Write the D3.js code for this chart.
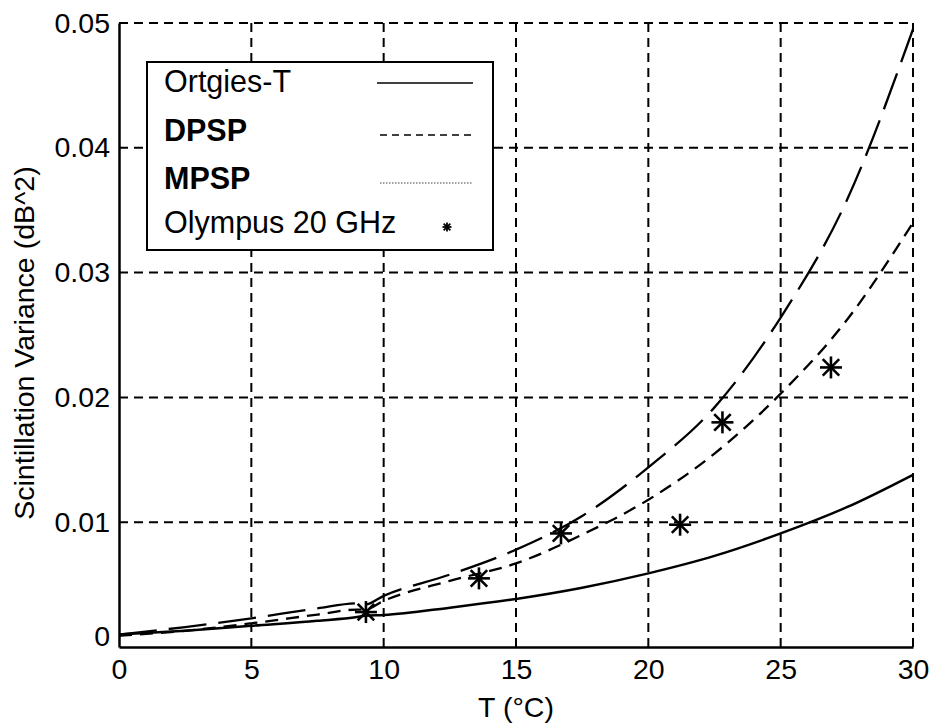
<!DOCTYPE html>
<html>
<head>
<meta charset="utf-8">
<script src="https://cdn.jsdelivr.net/npm/d3@7"></script>
<style>
  html, body { margin: 0; padding: 0; background: #fff; }
  svg { display: block; font-family: "Liberation Sans", Arial, sans-serif; }
</style>
</head>
<body>
<svg id="chart" width="930" height="726"></svg>
<script>
// ---- data ----
const temps   = [0, 2.5, 5, 7.5, 9, 9.3, 10, 12.5, 15, 17.5, 20, 22.5, 25, 27.5, 30];
const ortgies = [0.0010, 0.0013, 0.0017, 0.0021, 0.0024, 0.0025, 0.00256, 0.00315, 0.00385, 0.00475, 0.0059, 0.0073, 0.0091, 0.0112, 0.0138];
const dpsp    = [0.0009, 0.0013, 0.0019, 0.0026, 0.0030, 0.0030, 0.0037, 0.0053, 0.0067, 0.0090, 0.0118, 0.0155, 0.0203, 0.0262, 0.0340];
const mpsp    = [0.0010, 0.0016, 0.0023, 0.0031, 0.0035, 0.0034, 0.0041, 0.0058, 0.0078, 0.0105, 0.0144, 0.0192, 0.0264, 0.0358, 0.0495];
const olyT    = [9.33, 13.6, 16.7, 21.2, 22.8, 26.9];
const olyV    = [0.0028, 0.0055, 0.0091, 0.0098, 0.0180, 0.0224];
const xTicks  = [0, 5, 10, 15, 20, 25, 30];
const yTicks  = [0, 0.01, 0.02, 0.03, 0.04, 0.05];
const yTickLabels = ["0", "0.01", "0.02", "0.03", "0.04", "0.05"];
const legendLabels = ["Ortgies-T", "DPSP", "MPSP", "Olympus 20 GHz"];
const xLabel = "T (°C)";
const yLabel = "Scintillation Variance (dB^2)";

// ---- layout ----
const L = 119, R = 913, T = 23, B = 647;
const svg = d3.select("#chart");
const x = d3.scaleLinear().domain([0, 30]).range([L, R]);
const y = d3.scaleLinear().domain([0, 0.05]).range([B, T]);

// grid
const grid = svg.append("g").attr("stroke", "#000").attr("stroke-width", 2)
  .attr("stroke-dasharray", "9,6").attr("fill", "none");
xTicks.filter(d => d > 0).forEach(d => {
  grid.append("line").attr("x1", x(d)).attr("x2", x(d)).attr("y1", B).attr("y2", T);
});
yTicks.filter(d => d > 0).forEach(d => {
  grid.append("line").attr("x1", L).attr("x2", R).attr("y1", y(d)).attr("y2", y(d));
});

// axes
const xAxis = d3.axisBottom(x).tickValues(xTicks).tickSize(0).tickPadding(12)
  .tickFormat(d3.format("d"));
const gx = svg.append("g").attr("transform", `translate(0,${B})`).call(xAxis);
gx.select(".domain").attr("stroke", "#000").attr("stroke-width", 2.5);
gx.selectAll("text").attr("font-size", 28.5).attr("fill", "#000")
  .attr("font-family", "Liberation Sans, Arial, sans-serif");

const yAxis = d3.axisLeft(y).tickValues(yTicks).tickSize(0).tickPadding(9)
  .tickFormat((d, i) => yTickLabels[i]);
const gy = svg.append("g").attr("transform", `translate(${L},0)`).call(yAxis);
gy.select(".domain").attr("stroke", "#000").attr("stroke-width", 2.5);
gy.selectAll("text").attr("font-size", 28.5).attr("fill", "#000")
  .attr("font-family", "Liberation Sans, Arial, sans-serif");
gy.selectAll(".tick").filter(d => d === 0).select("text").attr("dy", "-0.05em");

// axis labels
svg.append("text").attr("x", (L + R) / 2).attr("y", 717).attr("text-anchor", "middle")
  .attr("font-size", 28.5).text(xLabel);
svg.append("text").attr("transform", `translate(34,${(T + B) / 2 + 8}) rotate(-90)`)
  .attr("text-anchor", "middle").attr("font-size", 28.5).text(yLabel);

// curves
const line = (vals) => d3.line().x((d, i) => x(temps[i])).y(d => y(d)).curve(d3.curveMonotoneX)(vals);
const curves = svg.append("g").attr("fill", "none").attr("stroke", "#000");
curves.append("path").attr("d", line(ortgies)).attr("stroke-width", 2.5);
curves.append("path").attr("d", line(dpsp)).attr("stroke-width", 2.3).attr("stroke-dasharray", "13,8");
curves.append("path").attr("d", line(mpsp)).attr("stroke-width", 2.3).attr("stroke-dasharray", "38,12");

// stars
const star = (g, cx, cy, r, w) => {
  const s = g.append("g").attr("stroke", "#000").attr("stroke-width", w);
  s.append("line").attr("x1", cx - r).attr("x2", cx + r).attr("y1", cy).attr("y2", cy);
  s.append("line").attr("x1", cx).attr("x2", cx).attr("y1", cy - r).attr("y2", cy + r);
  const k = r * 0.75;
  s.append("line").attr("x1", cx - k).attr("x2", cx + k).attr("y1", cy - k).attr("y2", cy + k);
  s.append("line").attr("x1", cx - k).attr("x2", cx + k).attr("y1", cy + k).attr("y2", cy - k);
};
const stars = svg.append("g");
olyT.forEach((t, i) => star(stars, x(t), y(olyV[i]), 11, 2.6));

// legend
const lg = svg.append("g");
lg.append("rect").attr("x", 147).attr("y", 62).attr("width", 346).attr("height", 188)
  .attr("fill", "#fff").attr("stroke", "#000").attr("stroke-width", 2);
const rows = [92, 141, 189, 233];
const weights = ["normal", "bold", "bold", "normal"];
legendLabels.forEach((t, i) => {
  lg.append("text").attr("x", 164).attr("y", rows[i]).attr("font-size", 30.5)
    .attr("font-weight", weights[i] === "bold" ? 600 : 400).text(t);
});
lg.append("line").attr("x1", 377).attr("x2", 473).attr("y1", 83).attr("y2", 83)
  .attr("stroke", "#000").attr("stroke-width", 1.6);
lg.append("line").attr("x1", 380).attr("x2", 472).attr("y1", 135).attr("y2", 135)
  .attr("stroke", "#000").attr("stroke-width", 1.4).attr("stroke-dasharray", "7,5");
lg.append("line").attr("x1", 380).attr("x2", 472).attr("y1", 183).attr("y2", 183)
  .attr("stroke", "#444").attr("stroke-width", 1.2).attr("stroke-dasharray", "1.5,1.5");
star(lg, 447, 227, 4.5, 1.8);
</script>
</body>
</html>
